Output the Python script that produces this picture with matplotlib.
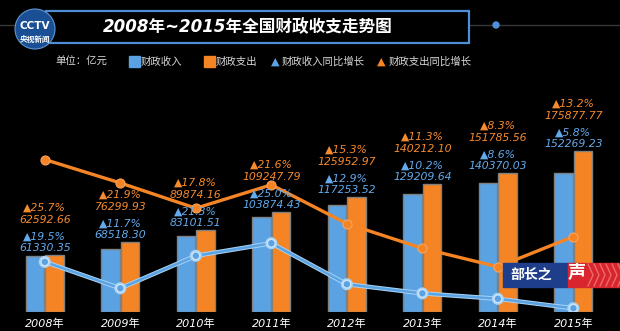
import numpy as np
import matplotlib.pyplot as plt
from matplotlib.patches import Rectangle, Ellipse
from matplotlib.lines import Line2D
import matplotlib.patheffects as pe

plt.rcParams['font.family'] = ['DejaVu Sans', 'Noto Sans CJK SC']

years = ['2008年', '2009年', '2010年', '2011年', '2012年', '2013年', '2014年', '2015年']
revenue = [61330.35, 68518.30, 83101.51, 103874.43, 117253.52, 129209.64, 140370.03, 152269.23]
expense = [62592.66, 76299.93, 89874.16, 109247.79, 125952.97, 140212.10, 151785.56, 175877.77]
rev_growth = [19.5, 11.7, 21.3, 25.0, 12.9, 10.2, 8.6, 5.8]
exp_growth = [25.7, 21.9, 17.8, 21.6, 15.3, 11.3, 8.3, 13.2]

BLUE = '#5AA2E2'
ORANGE = '#F58424'
BLUE_T = '#62AAEC'
ORANGE_T = '#F58A2E'
W, H = 620, 331


def fx(x):
    return x / W


def fy(y):
    return 1 - y / H


fig = plt.figure(figsize=(6.2, 3.31), dpi=100, facecolor='black')

ax = fig.add_axes([fx(3.3), 19 / H, 611.6 / W, 232 / H])
ax.set_facecolor('black')
x = np.arange(len(years))
bw = 0.245
ax.bar(x - 0.13, revenue, bw, color=BLUE, edgecolor='#808080', linewidth=1)
ax.bar(x + 0.13, expense, bw, color=ORANGE, edgecolor='#808080', linewidth=1)
ax.set_xlim(-0.55, 7.55)
ax.set_ylim(0, 232 * 1092)
ax.set_yticks([])
ax.set_xticks(x)
ax.set_xticklabels(years, color='white', fontsize=8, fontstyle='italic')
ax.tick_params(axis='x', length=0, pad=5)
for s in ax.spines.values():
    s.set_visible(False)

# growth lines on their own scales
ax2 = ax.twinx()
ax2.set_ylim(4.7, 73.2)
ax2.plot(x, rev_growth, color=BLUE, lw=1.8, marker='o', ms=5.5,
         mfc=BLUE, mec='#CFE6FA', mew=0.9,
         path_effects=[pe.Stroke(linewidth=3.2, foreground='#A9D3F5'), pe.Normal()])
ax3 = ax.twinx()
ax3.set_ylim(0.97, 38.6)
ax3.plot(x, exp_growth, color=ORANGE, lw=2.4, marker='o', ms=6.5,
         mfc=ORANGE, mec='#F7A45E', mew=0.8)
for a in (ax2, ax3):
    a.set_yticks([])
    a.set_xlim(-0.55, 7.55)
    for s in a.spines.values():
        s.set_visible(False)

# value labels
lab = dict(xycoords=ax.transData, textcoords='offset pixels', ha='center',
           va='center', fontsize=7.8, fontstyle='italic')
for i in range(len(years)):
    top = max(revenue[i], expense[i])
    ax3.annotate(f'{revenue[i]:.2f}', (x[i], top), xytext=(0, 7), color=BLUE_T, **lab)
    ax3.annotate(f'▲{rev_growth[i]:.1f}%', (x[i], top), xytext=(0, 18), color=BLUE_T, **lab)
    ax3.annotate(f'{expense[i]:.2f}', (x[i], top), xytext=(0, 35), color=ORANGE_T, **lab)
    ax3.annotate(f'▲{exp_growth[i]:.1f}%', (x[i], top), xytext=(0, 47), color=ORANGE_T, **lab)

# header line, title box and dot
fig.add_artist(Line2D([0, 1], [fy(25), fy(25)], color='#383838', lw=1))
fig.add_artist(Rectangle((fx(46), fy(43)), fx(423), 32 / H, facecolor='black',
                         edgecolor='#4F8FDA', lw=1.6, zorder=3))
fig.text(fx(248), fy(27), '2008年~2015年全国财政收支走势图', color='white', fontsize=12,
         fontweight='bold', fontstyle='italic', ha='center', va='center', zorder=4)
fig.add_artist(Ellipse((fx(496), fy(25)), 6 / W, 6 / H, color='#4F8FDA', zorder=3))

# logo
fig.add_artist(Ellipse((fx(35), fy(29)), 40 / W, 40 / H, facecolor='#1A4F95',
                       edgecolor='#5E96D2', lw=0.8, zorder=5))
fig.text(fx(35), fy(26), 'CCTV', color='white', fontsize=7.5, fontweight='bold',
         ha='center', va='center', zorder=6)
fig.text(fx(35), fy(39), '央视新闻', color='white', fontsize=5.5, fontweight='bold',
         ha='center', va='center', zorder=6)

# legend row
ly = fy(62)
fig.text(fx(55), ly, '单位：亿元', color='#D8D8D8', fontsize=7.5, fontstyle='italic', va='center')
fig.add_artist(Rectangle((fx(129), fy(67)), 11 / W, 11 / H, color=BLUE))
fig.text(fx(141), ly, '财政收入', color='#D8D8D8', fontsize=7.5, va='center')
fig.add_artist(Rectangle((fx(204), fy(67)), 11 / W, 11 / H, color=ORANGE))
fig.text(fx(216), ly, '财政支出', color='#D8D8D8', fontsize=7.5, va='center')
fig.text(fx(271), ly, '▲', color=BLUE, fontsize=8, va='center')
fig.text(fx(282), ly, '财政收入同比增长', color='#D8D8D8', fontsize=7.5, va='center')
fig.text(fx(377), ly, '▲', color=ORANGE, fontsize=8, va='center')
fig.text(fx(389), ly, '财政支出同比增长', color='#D8D8D8', fontsize=7.5, va='center')

# watermark
fig.add_artist(Rectangle((fx(503), fy(287)), 65 / W, 24 / H, color='#1E3E8C', zorder=5))
fig.add_artist(Rectangle((fx(568), fy(287)), 52 / W, 24 / H, color='#D9252D', zorder=5))
for k in range(6):
    xs = 588 + k * 6
    fig.add_artist(Line2D([fx(xs), fx(xs + 5), fx(xs)], [fy(264), fy(275), fy(286)],
                          color='#EE6A6A', lw=1, zorder=6))
fig.text(fx(510), fy(275), '部长之', color='white', fontsize=10, fontweight='bold',
         va='center', zorder=7)
fig.text(fx(568), fy(273), '声', color='white', fontsize=13, fontweight='bold',
         va='center', zorder=7)

fig.savefig('out.png', dpi=100, facecolor='black')
